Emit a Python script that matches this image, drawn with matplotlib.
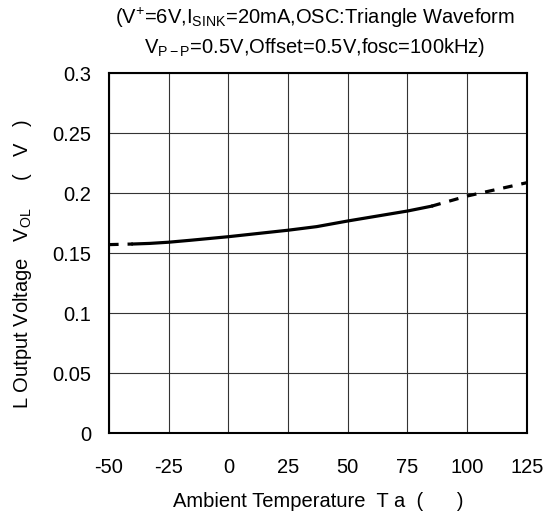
import numpy as np
import matplotlib
matplotlib.use('Agg')
import matplotlib.pyplot as plt

plt.rcParams['font.family'] = ['Liberation Sans', 'DejaVu Sans']
plt.rcParams['mathtext.fontset'] = 'custom'
plt.rcParams['mathtext.rm'] = 'Liberation Sans'
plt.rcParams['mathtext.it'] = 'Liberation Sans'

# curve (Ta in degC, VOL in V)
temp = [-50, -40, -33, -25, -16, 0, 25, 37, 50, 75, 85, 100, 125]
vol = [0.157, 0.1575, 0.158, 0.159, 0.1606, 0.1636, 0.169, 0.172, 0.1767, 0.185, 0.189, 0.1975, 0.2086]
solid_from = -40
solid_to = 85

xticks = [-50, -25, 0, 25, 50, 75, 100, 125]
xlabels = ['-50', '-25', '0', '25', '50', '75', '100', '125']
yticks = [0, 0.05, 0.1, 0.15, 0.2, 0.25, 0.3]
ylabels = ['0', '0.05', '0.1', '0.15', '0.2', '0.25', '0.3']

temp = np.array(temp)
vol = np.array(vol)

FS = 14.5

fig = plt.figure(figsize=(5.52, 5.19), dpi=100)
ax = fig.add_axes([0.1975, 0.1657, 0.757, 0.6936])

ax.grid(True, color='#333333', linewidth=0.8)
ax.set_axisbelow(True)

m = temp <= solid_from
ax.plot(temp[m], vol[m], color='black', linewidth=2.3, linestyle=(0, (3, 2.8)), dash_capstyle='butt')
m = (temp >= solid_from) & (temp <= solid_to)
ax.plot(temp[m], vol[m], color='black', linewidth=2.3)
m = temp >= solid_to
ax.plot(temp[m], vol[m], color='black', linewidth=2.3, linestyle=(0, (3, 2.8)), dash_capstyle='butt')

ax.set_xlim(-50, 125)
ax.set_ylim(0, 0.3)
ax.set_xticks(xticks)
ax.set_xticklabels(xlabels)
ax.set_yticks(yticks)
ax.set_yticklabels(ylabels)
ax.tick_params(length=0, labelsize=FS)
ax.tick_params(axis='x', pad=18)
ax.tick_params(axis='y', pad=13)
for s in ax.spines.values():
  s.set_linewidth(1.5)

ax.set_xlabel('Ambient Temperature  T a  (      )', fontsize=FS, va='center')
ax.xaxis.set_label_coords(0.5, -0.19)
ax.set_ylabel(r'L Output Voltage   V$_{\mathrm{OL}}$     (   V   )', fontsize=FS, va='center')
ax.yaxis.set_label_coords(-0.208, 0.47)

fig.text(0.57, 0.965, r'(V$^{+}$=6V,I$_{\mathrm{SINK}}$=20mA,OSC:Triangle Waveform', fontsize=FS, ha='center', va='center')
fig.text(0.57, 0.908, r'V$_{\mathrm{P-P}}$=0.5V,Offset=0.5V,fosc=100kHz)', fontsize=FS, ha='center', va='center')

fig.savefig('out.png', dpi=100)
